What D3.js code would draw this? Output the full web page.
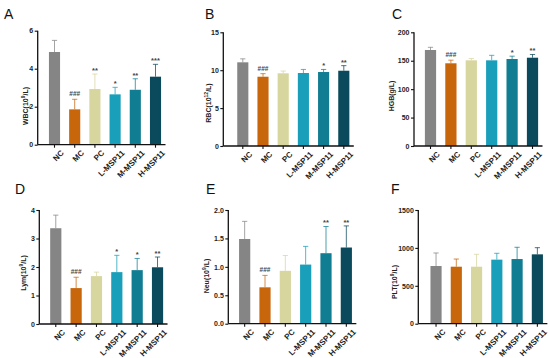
<!DOCTYPE html>
<html><head><meta charset="utf-8">
<script src="https://cdn.jsdelivr.net/npm/d3@7"></script>
<style>
body{margin:0;background:#fff;}
svg{display:block;font-family:"Liberation Sans",Arial,sans-serif;}
</style></head>
<body><svg id="c" width="550" height="358"></svg>
<script>
const categories = ["NC","MC","PC","L-MSP11","M-MSP11","H-MSP11"];
const colors = ["#858585","#C8660C","#D7D69E","#1A9FBA","#117D93","#0B4A5C"];

const wbcMean = [4.88,1.86,2.93,2.65,2.89,3.58];
const wbcSD   = [0.61,0.53,0.79,0.37,0.58,0.65];
const wbcSig  = ["","###","**","*","**","***"];
const wbcTicks = [0,2,4,6];

const rbcMean = [11.04,9.14,9.59,9.63,9.76,9.93];
const rbcSD   = [0.46,0.40,0.30,0.47,0.34,0.67];
const rbcSig  = ["","###","","","*","**"];
const rbcTicks = [0,5,10,15];

const hgbMean = [168.9,145.5,150.7,150.7,153.0,155.3];
const hgbSD   = [4.7,5.5,3.3,8.8,5.0,5.7];
const hgbSig  = ["","###","","","*","**"];
const hgbTicks = [0,50,100,150,200];

const lymMean = [3.36,1.26,1.68,1.82,1.89,1.99];
const lymSD   = [0.46,0.38,0.14,0.59,0.41,0.36];
const lymSig  = ["","###","","*","*","**"];
const lymTicks = [0,1,2,3,4];

const neuMean = [1.49,0.64,0.93,1.04,1.24,1.34];
const neuSD   = [0.31,0.21,0.27,0.32,0.47,0.38];
const neuSig  = ["","###","","","**","**"];
const neuTicks = [0,0.5,1.0,1.5,2.0];

const pltMean = [761,752,752,845,853,915];
const pltSD   = [172,101,163,84,155,88];
const pltSig  = ["","","","","",""];
const pltTicks = [0,500,1000,1500];

const panels = [
  {letter:"A", lx:4, ly:19, mean:wbcMean, sd:wbcSD, sig:wbcSig, ticks:wbcTicks, fmt:d3.format("d"),
   label:["WBC(10","9","/L)"], yax:37.7, yTop:30.7, yBot:144.7, band:[44.4,165.6], labX:28, labY:106},
  {letter:"B", lx:205, ly:19, mean:rbcMean, sd:rbcSD, sig:rbcSig, ticks:rbcTicks, fmt:d3.format("d"),
   label:["RBC(10","12","/L)"], yax:223.3, yTop:32.3, yBot:146, band:[232.7,353.9], labX:211, labY:103},
  {letter:"C", lx:392, ly:19, mean:hgbMean, sd:hgbSD, sig:hgbSig, ticks:hgbTicks, fmt:d3.format("d"),
   label:["HGB(g/L)"], yax:414, yTop:32.3, yBot:146, band:[420.3,542.7], labX:394, labY:96},
  {letter:"D", lx:15, ly:194, mean:lymMean, sd:lymSD, sig:lymSig, ticks:lymTicks, fmt:d3.format("d"),
   label:["Lym(10","9","/L)"], yax:39.3, yTop:210, yBot:324, band:[45.6,167.7], labX:26, labY:273},
  {letter:"E", lx:206, ly:194, mean:neuMean, sd:neuSD, sig:neuSig, ticks:neuTicks, fmt:d3.format(".1f"),
   label:["Neu(10","9","/L)"], yax:228.3, yTop:210, yBot:323.7, band:[234.5,356.5], labX:209, labY:276},
  {letter:"F", lx:391, ly:194, mean:pltMean, sd:pltSD, sig:pltSig, ticks:pltTicks, fmt:d3.format("d"),
   label:["PLT(10","9","/L)"], yax:418.3, yTop:210, yBot:323.7, band:[425.9,547.5], labX:397, labY:282}
];

const svg = d3.select("#c");

panels.forEach(p => {
  const g = svg.append("g");
  const ymax = p.ticks[p.ticks.length-1];
  const y = d3.scaleLinear().domain([0, ymax]).range([p.yBot, p.yTop]);
  const x = d3.scaleBand().domain(categories).range(p.band).paddingInner(0.45).paddingOuter(0.225);
  const bw = x.bandwidth();

  g.append("text").attr("x", p.lx).attr("y", p.ly).attr("font-size", 14).attr("fill","#111")
    .text(p.letter);

  const data = categories.map((c,i) => ({c, m:p.mean[i], s:p.sd[i], sig:p.sig[i], col:colors[i]}));
  g.selectAll("rect.bar").data(data).join("rect")
    .attr("x", d => x(d.c)).attr("width", bw)
    .attr("y", d => y(d.m)).attr("height", d => y(0) - y(d.m))
    .attr("fill", d => d.col);

  data.forEach(d => {
    const cx = x(d.c) + bw/2;
    g.append("line").attr("x1", cx).attr("x2", cx).attr("y1", y(d.m)).attr("y2", y(d.m + d.s))
      .attr("stroke", d.col).attr("stroke-opacity", 0.75).attr("stroke-width", 1);
    g.append("line").attr("x1", cx-2.6).attr("x2", cx+2.6).attr("y1", y(d.m + d.s)).attr("y2", y(d.m + d.s))
      .attr("stroke", d.col).attr("stroke-opacity", 0.75).attr("stroke-width", 1);
    if (d.sig) {
      g.append("text").attr("x", cx).attr("y", y(d.m + d.s) - (d.sig[0]==="#" ? 3 : 1))
        .attr("text-anchor","middle").attr("font-size", d.sig[0]==="#" ? 6.5 : 7.5)
        .attr("font-weight","bold").attr("fill","#444").text(d.sig);
    }
  });

  const ya = g.append("g").attr("transform", `translate(${p.yax},0)`)
    .call(d3.axisLeft(y).tickValues(p.ticks).tickFormat(p.fmt).tickSize(3).tickPadding(1.5));
  ya.select(".domain").attr("d", `M0,${p.yTop}V${p.yBot}`).attr("stroke","#111").attr("stroke-width",1.3);
  ya.selectAll(".tick line").attr("stroke","#111").attr("stroke-width",1.1);
  ya.selectAll(".tick text").attr("font-size",7).attr("font-weight","bold").attr("fill","#222")
    .attr("font-family","Liberation Sans,Arial,sans-serif");

  const xEnd = x(categories[5]) + bw/2 + 10;
  const xa = g.append("g").attr("transform", `translate(0,${p.yBot})`)
    .call(d3.axisBottom(x).tickSize(3).tickPadding(2));
  xa.select(".domain").attr("d", `M${p.yax},0H${xEnd}`).attr("stroke","#111").attr("stroke-width",1.3);
  xa.selectAll(".tick line").attr("stroke","#111").attr("stroke-width",1.1);
  xa.selectAll(".tick text").attr("font-size",8).attr("font-weight","bold").attr("fill","#222")
    .attr("font-family","Liberation Sans,Arial,sans-serif")
    .attr("text-anchor","end").attr("dy","0.5em").attr("dx","0.1em")
    .attr("transform","translate(3,3) rotate(-45)");

  const t = g.append("text").attr("transform", `translate(${p.labX},${p.labY}) rotate(-90)`)
    .attr("text-anchor","middle").attr("font-size",7).attr("font-weight","bold").attr("fill","#222");
  t.append("tspan").text(p.label[0]);
  if (p.label.length > 1) {
    t.append("tspan").attr("font-size",5).attr("dy",-3).text(p.label[1]);
    t.append("tspan").attr("dy",3).text(p.label[2]);
  }
});
</script></body></html>
